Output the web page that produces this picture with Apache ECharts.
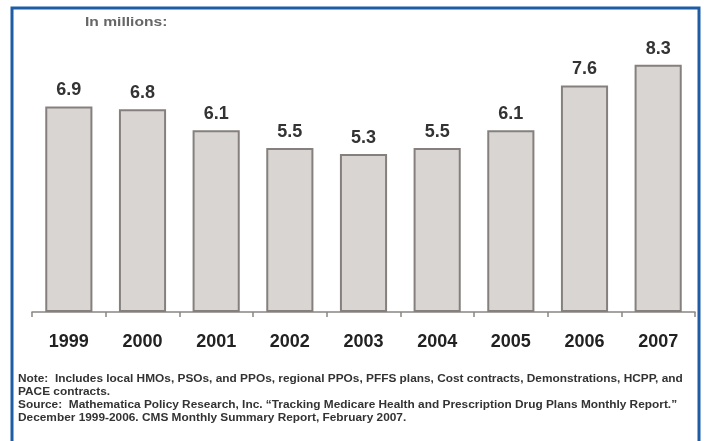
<!DOCTYPE html>
<html><head><meta charset="utf-8">
<script src="https://cdn.jsdelivr.net/npm/echarts@6/dist/echarts.min.js"></script>
<style>html,body{margin:0;padding:0;background:#fff}#c{width:704px;height:441px}</style>
</head><body><div id="c"></div>
<script>
const categories = ['1999','2000','2001','2002','2003','2004','2005','2006','2007'];
const values = [6.9, 6.8, 6.1, 5.5, 5.3, 5.5, 6.1, 7.6, 8.3];
const unitLabel = 'In millions:';
const noteLines = [
  'Note:  Includes local HMOs, PSOs, and PPOs, regional PPOs, PFFS plans, Cost contracts, Demonstrations, HCPP, and',
  'PACE contracts.',
  'Source:  Mathematica Policy Research, Inc. \u201cTracking Medicare Health and Prescription Drug Plans Monthly Report.\u201d',
  'December 1999-2006. CMS Monthly Summary Report, February 2007.'
];
const chart = echarts.init(document.getElementById('c'));
chart.setOption({
  animation: false,
  backgroundColor: '#fff',
  grid: {left: 32, right: 9, top: 14, bottom: 129},
  xAxis: {
    type: 'category', data: categories,
    axisLine: {lineStyle: {color: '#8a8583', width: 1.5}},
    axisTick: {show: true, length: 5, lineStyle: {color: '#8a8583', width: 1.5}},
    axisLabel: {color: '#222', fontSize: 18, fontWeight: 'bold', fontFamily: 'Liberation Sans', margin: 21}
  },
  yAxis: {type: 'value', min: 0, max: 10, show: false, splitLine: {show: false}},
  series: [{
    type: 'bar', data: values, barWidth: '64%',
    itemStyle: {color: '#d9d5d2', borderColor: '#85807e', borderWidth: 2},
    label: {show: true, position: 'top', distance: 7, color: '#333', fontSize: 18, fontWeight: 'bold', fontFamily: 'Liberation Sans',
      formatter: p => p.value.toFixed(1)}
  }],
  graphic: [
    {type: 'rect', shape: {x: 12, y: 8, width: 687, height: 460}, style: {fill: 'none', stroke: '#1f5ca6', lineWidth: 3}, z: 100},
    {type: 'text', x: 85, y: 16, scaleX: 1.2, style: {text: unitLabel, fill: '#666', font: 'bold 13px Liberation Sans'}},
    {type: 'text', x: 18, y: 373, scaleX: 1.186, style: {text: noteLines.join('\n'), fill: '#333', font: 'bold 10px Liberation Sans', lineHeight: 13}}
  ]
});
</script></body></html>
